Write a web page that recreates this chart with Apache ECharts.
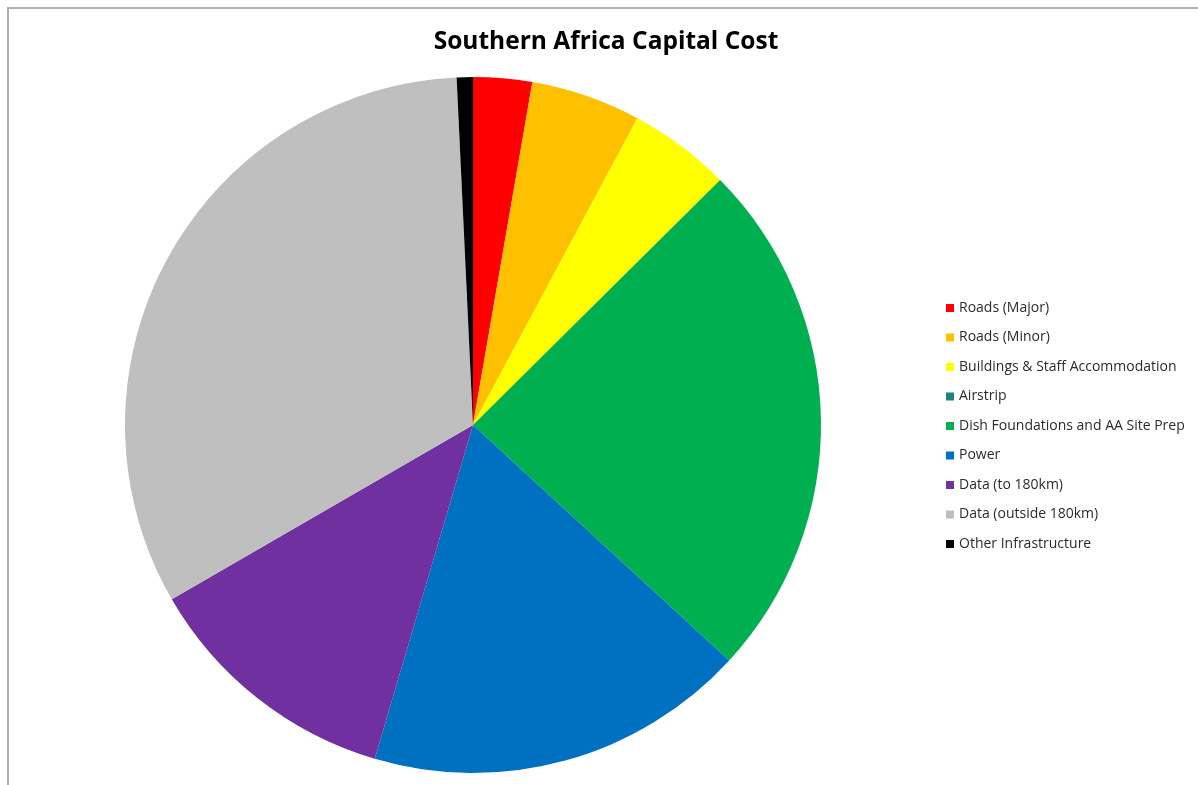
<!DOCTYPE html>
<html>
<head>
<meta charset="utf-8">
<script src="https://cdn.jsdelivr.net/npm/echarts@6/dist/echarts.min.js"></script>
<style>
  html, body { margin: 0; padding: 0; background: #fff; }
  #chart { width: 1198px; height: 785px; }
</style>
</head>
<body>
<div id="chart"></div>
<script>
// Capital cost breakdown, share of total (%)
const categories = [
  'Roads (Major)',
  'Roads (Minor)',
  'Buildings & Staff Accommodation',
  'Airstrip',
  'Dish Foundations and AA Site Prep',
  'Power',
  'Data (to 180km)',
  'Data (outside 180km)',
  'Other Infrastructure'
];
const shares = [2.73, 5.10, 4.74, 0, 24.26, 17.73, 12.10, 32.60, 0.75];
const colors = ['#FF0000', '#FFC000', '#FFFF00', '#1F8080', '#00B050', '#0070C0', '#7030A0', '#BFBFBF', '#000000'];

const chart = echarts.init(document.getElementById('chart'), null, { renderer: 'canvas' });

chart.setOption({
  backgroundColor: '#fff',
  animation: false,
  color: colors,
  title: {
    text: 'Southern Africa Capital Cost',
    left: 601,
    textAlign: 'center',
    top: 25,
    textStyle: {
      fontFamily: 'Open Sans',
      fontWeight: 'bold',
      fontSize: 24.5,
      color: '#000'
    }
  },
  legend: {
    orient: 'vertical',
    left: 941,
    top: 295,
    icon: 'rect',
    itemWidth: 8,
    itemHeight: 8,
    itemGap: 13.5,
    textStyle: {
      fontFamily: 'Open Sans',
      fontSize: 14,
      lineHeight: 16,
      color: '#2b2b2b',
      padding: [0, 0, 0, 0]
    },
    data: categories
  },
  graphic: [{
    type: 'rect',
    shape: { x: 8, y: 8, width: 1200, height: 800 },
    style: { fill: null, stroke: '#b0b0b0', lineWidth: 2 },
    silent: true,
    z: -1
  }],
  series: [{
    type: 'pie',
    center: [473, 425],
    radius: 348,
    startAngle: 90,
    clockwise: true,
    label: { show: false },
    labelLine: { show: false },
    emphasis: { disabled: true },
    itemStyle: { borderWidth: 0 },
    data: categories.map((name, i) => ({ name: name, value: shares[i] }))
  }]
});
</script>
</body>
</html>
